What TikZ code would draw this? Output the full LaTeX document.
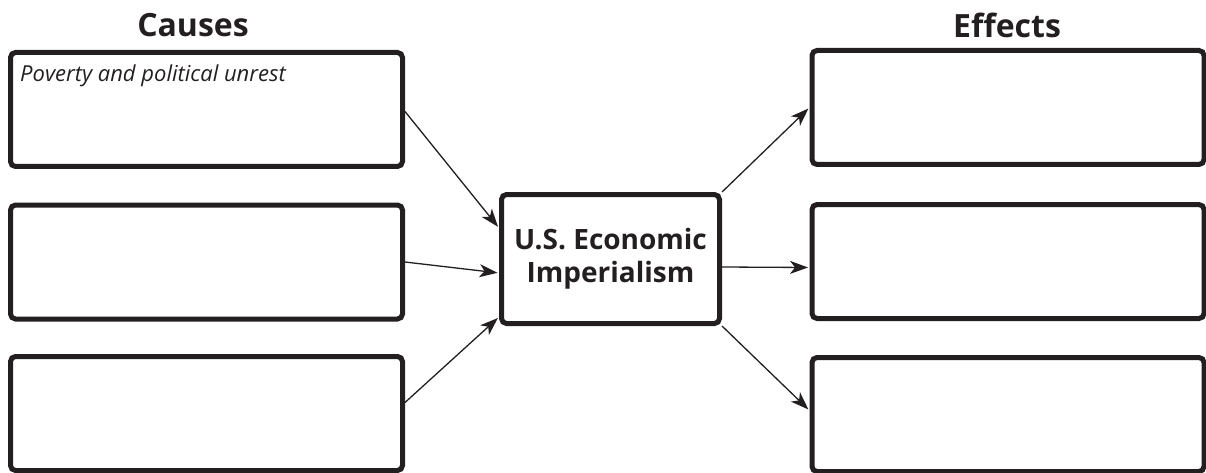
\documentclass[tikz,border=0pt]{standalone}
\usepackage{fontspec}
\setmainfont{Open Sans}
\usetikzlibrary{arrows.meta,positioning}
\definecolor{ink}{HTML}{231F20}
\tikzset{
  cellbox/.style={draw=ink,line width=5pt,rounded corners=5pt,minimum width=392pt,minimum height=114pt,inner sep=0pt},
  hubbox/.style={cellbox,minimum width=218pt,minimum height=129pt,align=center,font=\fontsize{28}{33}\selectfont\bfseries,text=ink},
  head/.style={font=\fontsize{32}{34}\selectfont\bfseries,text=ink},
  handtext/.style={font=\fontsize{22}{24}\selectfont\itshape,text=ink,anchor=base west,inner sep=0pt},
  arrow/.style={-{Stealth[length=18pt,width=13pt,inset=5pt]},line width=1.3pt,draw=ink,shorten >=1.5pt}
}
\begin{document}
\begin{tikzpicture}[x=1pt,y=-1pt]
        \useasboundingbox (0,0) rectangle (1206,473);

        \node[head] (causes) at (193,25) {Causes};
        \node[head] (effects) at (1007,25) {Effects};

        \node[cellbox] (c1) at (206.5,109.5) {};
        \node[cellbox] (c2) at (206.5,262) {};
        \node[cellbox] (c3) at (206.5,413.5) {};
        \node[hubbox] (hub) at (610.5,259) {U.S. Economic\\Imperialism};
        \node[cellbox] (e1) at (1008,107.5) {};
        \node[cellbox] (e2) at (1008,261.5) {};
        \node[cellbox] (e3) at (1008,414.5) {};

        \node[handtext] (note) at (20,82) {Poverty and political unrest};

        \draw[arrow] ([yshift=-2pt]c1.east) -- ([yshift=31pt]hub.west);
        \draw[arrow] (c2.east) -- ([yshift=-14pt]hub.west);
        \draw[arrow] ([yshift=11pt]c3.east) -- ([yshift=-58pt]hub.west);
        \draw[arrow] (hub.north east) -- (e1.west);
        \draw[arrow] ([yshift=-8pt]hub.east) -- ([yshift=-6pt]e2.west);
        \draw[arrow] (hub.south east) -- ([yshift=4pt]e3.west);
      \end{tikzpicture}
\end{document}
